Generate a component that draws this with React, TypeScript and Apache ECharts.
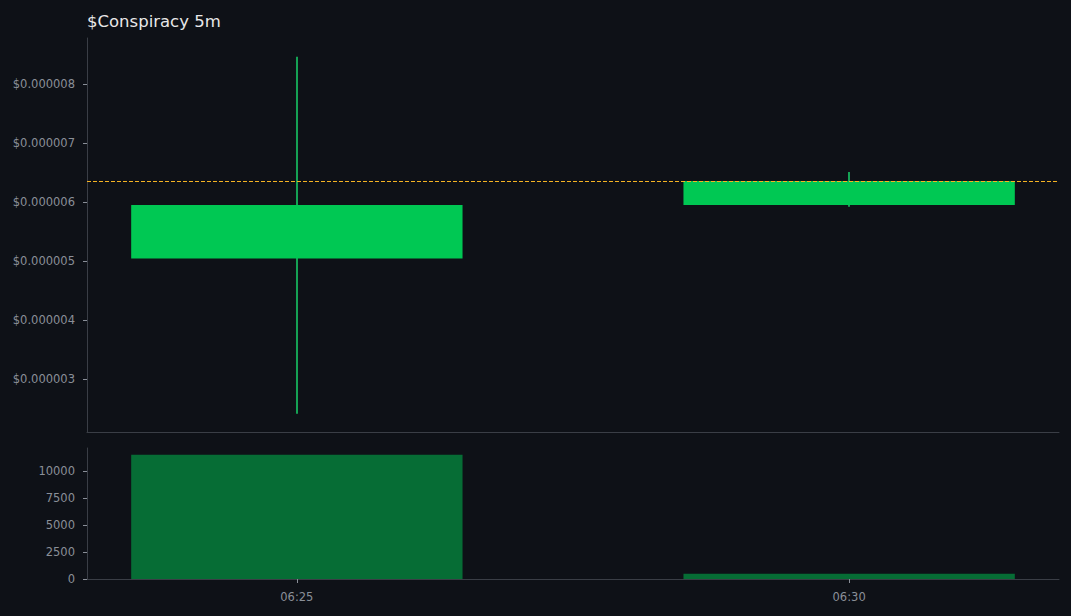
import React, { useEffect, useRef } from "react";
import * as echarts from "echarts";

const times = ["06:25", "06:30"];
const opens = [5.04e-6, 5.95e-6];
const closes = [5.95e-6, 6.356e-6];
const highs = [8.46e-6, 6.51e-6];
const lows = [2.41e-6, 5.92e-6];
const volumes = [11500, 480];
const priceTicks = [3e-6, 4e-6, 5e-6, 6e-6, 7e-6, 8e-6];
const volumeTicks = [0, 2500, 5000, 7500, 10000];

const BG = "#0e1117";
const GREEN = "#00c853";
const WICK = "#19e070";
const VOL_GREEN = "#066d35";
const LABEL = "#8a8f98";
const SPINE = "#3a3e46";
const DASH = "#f5b323";
const FONT = "DejaVu Sans";

export default function App() {
  const ref = useRef<HTMLDivElement>(null);
  useEffect(() => {
    if (!ref.current) return;
    const chart = echarts.init(ref.current, null, { renderer: "svg" });
    const candleData = times.map((_, i) => [i, opens[i], closes[i], lows[i], highs[i]]);
    const volData = volumes.map((v, i) => [i, v]);
    const lastClose = closes[closes.length - 1];
    const axisLabel = { color: LABEL, fontSize: 11.5, fontFamily: FONT, margin: 12 };
    const axisTick = { show: true, length: 4, lineStyle: { color: LABEL, width: 1 } };
    const axisLine = { show: true, onZero: false, lineStyle: { color: SPINE, width: 1 } };
    chart.setOption({
      animation: false,
      backgroundColor: BG,
      title: {
        text: "$Conspiracy 5m",
        left: 82,
        top: 8,
        textStyle: { color: "#e8e8e8", fontSize: 16.5, fontWeight: "normal", fontFamily: FONT },
      },
      grid: [
        { left: 87, right: 12, top: 38, height: 394 },
        { left: 87, right: 12, top: 448, height: 131 },
      ],
      xAxis: [
        {
          type: "value",
          gridIndex: 0,
          min: -0.38,
          max: 1.38,
          axisLine,
          axisTick: { show: false },
          axisLabel: { show: false },
          splitLine: { show: false },
        },
        {
          type: "value",
          gridIndex: 1,
          min: -0.38,
          max: 1.38,
          axisLine,
          axisTick: { ...axisTick, customValues: [0, 1] },
          axisLabel: {
            ...axisLabel,
            margin: 12,
            customValues: [0, 1],
            formatter: (v: number) => times[Math.round(v)] ?? "",
          },
          splitLine: { show: false },
        },
      ],
      yAxis: [
        {
          type: "value",
          gridIndex: 0,
          min: 2.1e-6,
          max: 8.78e-6,
          axisLine,
          axisTick: { ...axisTick, customValues: priceTicks },
          axisLabel: {
            ...axisLabel,
            customValues: priceTicks,
            formatter: (v: number) => "$" + v.toFixed(6),
          },
          splitLine: { show: false },
        },
        {
          type: "value",
          gridIndex: 1,
          min: 0,
          max: 12130,
          axisLine,
          axisTick: { ...axisTick, customValues: volumeTicks },
          axisLabel: { ...axisLabel, customValues: volumeTicks, formatter: (v: number) => String(v) },
          splitLine: { show: false },
        },
      ],
      series: [
        {
          type: "custom",
          xAxisIndex: 0,
          yAxisIndex: 0,
          data: candleData,
          encode: { x: 0, y: [1, 2, 3, 4] },
          clip: true,
          renderItem: (params: any, api: any) => {
            const x = api.value(0);
            const pO = api.coord([x, api.value(1)]);
            const pC = api.coord([x, api.value(2)]);
            const pL = api.coord([x, api.value(3)]);
            const pH = api.coord([x, api.value(4)]);
            const w = api.size([0.6, 0])[0];
            const cx = Math.round(pO[0]);
            return {
              type: "group",
              children: [
                {
                  type: "rect",
                  shape: { x: cx - 0.7, y: pH[1], width: 1.4, height: pL[1] - pH[1] },
                  style: { fill: WICK },
                },
                {
                  type: "rect",
                  shape: {
                    x: pO[0] - w / 2,
                    y: Math.min(pO[1], pC[1]),
                    width: w,
                    height: Math.abs(pO[1] - pC[1]),
                  },
                  style: { fill: GREEN },
                },
              ],
            };
          },
        },
        {
          type: "custom",
          xAxisIndex: 0,
          yAxisIndex: 0,
          data: [[0, lastClose]],
          encode: { x: 0, y: 1 },
          z: 5,
          silent: true,
          renderItem: (params: any, api: any) => {
            const p = api.coord([0, api.value(1)]);
            const cs = params.coordSys;
            const y = Math.round(p[1]) + 0.5;
            return {
              type: "line",
              shape: { x1: cs.x, y1: y, x2: cs.x + cs.width, y2: y },
              style: { stroke: DASH, lineWidth: 1.1, lineDash: [4, 2] },
            };
          },
        },
        {
          type: "custom",
          xAxisIndex: 1,
          yAxisIndex: 1,
          data: volData,
          encode: { x: 0, y: 1 },
          renderItem: (params: any, api: any) => {
            const x = api.value(0);
            const pT = api.coord([x, api.value(1)]);
            const p0 = api.coord([x, 0]);
            const w = api.size([0.6, 0])[0];
            return {
              type: "rect",
              shape: { x: pT[0] - w / 2, y: pT[1], width: w, height: p0[1] - pT[1] },
              style: { fill: VOL_GREEN },
            };
          },
        },
      ],
    });
    return () => chart.dispose();
  }, []);
  return <div ref={ref} style={{ width: 1071, height: 616, position: "absolute", left: 0, top: 0 }} />;
}
